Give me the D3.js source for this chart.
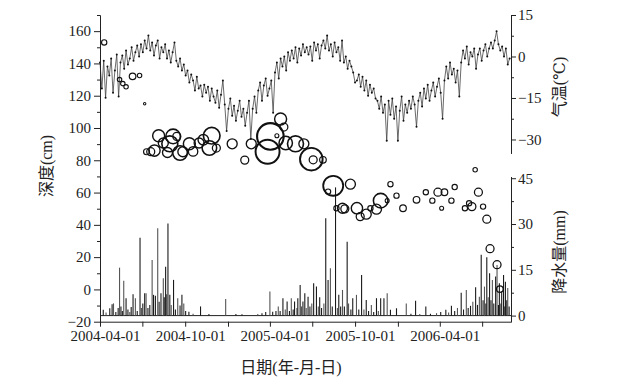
<!DOCTYPE html>
<html>
<head>
<meta charset="utf-8">
<script src="https://cdn.jsdelivr.net/npm/d3@7"></script>
<style>
  body { margin: 0; background: #fff; }
  svg { display: block; }
  text { font-family: "Liberation Serif", "DejaVu Serif", "Noto Sans CJK SC", serif; fill: #222; }
  .axis path, .axis line { stroke: #222; stroke-width: 1; }
  .axis text { font-size: 15px; }
  .title { font-size: 16px; }
</style>
</head>
<body>
<svg width="639" height="386"></svg>
<script>
// daily air temperature, read every 4th day from 2004-04-01 (°C)
var tempStart = "2004-04-01";
var tempStepDays = 4;
var temperature = [
  -2.2, -11.6, -1.5, -14.9,
  -3.6, -6.9, -0.7, -13.1, -5.1,
  0.7, -14.5, -2.2, 0.4, -4.4,
  2.2, -2.9, -0.7, 3.3, -1.5, 1.5, 4.0,
  0, 4.4, 1.5, 5.8, 2.9, 7.6,
  2.2, 5.1, 0.4, 4.0, 5.8, -0.7, 3.3, 1.5, 4.4,
  -0.7, 2.2, -2.2, 1.5, 5.1, -1.5, -3.6, -0.7, -5.1, -2.9, -6.9,
  -5.1, -9.4, -6.5, -8.7, -12.3, -7.3, -11.6, -10.5, -14.5, -10.2,
  -13.1, -10.9, -16.0, -11.6, -14.5, -16.7, -12.3, -18.5, -13.8, -8.7,
  -17.4, -26.9, -18.9, -15.2, -21.4, -17.8, -23.2, -19.6, -16.0, -21.8, -18.9, -25.0, -20.3, -16.0,
  -29.8, -18.9, -14.5, -20.3,
  -12.3, -9.4, -16.0, -10.5, -8.0, -14.2, -11.6, -8.7, -20.3,
  -5.8, -2.2, -8.0, -0.7, -3.6, 0, -5.1, 1.5, -1.5,
  2.2, -0.7, 3.3, -2.2, 2.9, 0.4, 4.4, 1.5, 3.3,
  0.7, 3.6, -1.5, 5.1, 2.2, 4.4, -0.7, 4.0, 5.8, 2.9, 7.6, 2.2, 4.4, 0, 5.1, 1.5, 3.3, -1.5, 5.8,
  -2.2, 0, -4.4, -1.5, -3.6, -5.8, -9.4,
  -8.7, -6.5, -10.9, -7.3, -12.3, -8.7, -14.2, -10.2, -13.1, -11.6, -15.2,
  -16.0, -18.9, -14.5, -20.3, -17.4, -30.5, -16.0, -21.1, -15.2, -22.5, -18.1, -30.5, -19.6, -14.5, -23.2, -17.4, -20.3, -16.0,
  -18.9, -14.5, -17.4, -25.4, -16.0, -13.1, -18.1, -11.6, -15.2, -10.2, -16.0, -12.3, -9.4, -14.5, -10.9, -8.0, -13.1, -22.5, -8.7,
  -3.6, -8.0, -2.2, -6.5, -4.4, -9.4, -5.1, -14.5,
  -2.2, 2.2, -0.7, 3.6, -2.9, 1.5, 0, 2.9, -4.4, 0.7, 2.9, -1.5, 2.2, 4.4, 0, 2.9, 5.1,
  2.9, 5.8, 9.1, 4.4, 2.2, 3.6, 0, 2.9, -2.9, -0.7
];

// daily precipitation, wet days only (mm)
var rain = [
  ["2004-04-08", 1.9], ["2004-04-14", 1.0], ["2004-04-22", 2.4], ["2004-04-27", 3.7], ["2004-04-30", 4.0],
  ["2004-05-05", 1.2], ["2004-05-10", 2.5], ["2004-05-13", 15.7], ["2004-05-16", 3.0], ["2004-05-19", 1.5],
  ["2004-05-22", 11.4], ["2004-05-27", 5.7], ["2004-05-31", 2.0], ["2004-06-04", 1.2], ["2004-06-07", 2.8],
  ["2004-06-11", 7.0], ["2004-06-16", 5.7], ["2004-06-20", 1.5], ["2004-06-26", 25.5], ["2004-06-29", 2.5],
  ["2004-07-02", 4.0], ["2004-07-06", 7.3], ["2004-07-09", 7.3], ["2004-07-13", 2.5], ["2004-07-17", 3.5],
  ["2004-07-22", 18.2], ["2004-07-25", 6.8], ["2004-07-29", 6.5], ["2004-08-03", 28.6], ["2004-08-06", 4.5],
  ["2004-08-10", 7.3], ["2004-08-15", 12.2], ["2004-08-17", 6.0], ["2004-08-20", 16.0], ["2004-08-22", 7.0],
  ["2004-08-25", 30.2], ["2004-08-29", 6.8], ["2004-09-01", 3.5], ["2004-09-06", 11.7], ["2004-09-10", 2.0],
  ["2004-09-15", 5.7], ["2004-09-20", 3.3], ["2004-09-24", 6.8], ["2004-09-28", 4.0], ["2004-10-02", 1.5],
  ["2004-10-09", 1.3], ["2004-10-18", 0.6], ["2004-11-03", 3.0], ["2004-11-21", 0.5], ["2004-12-27", 5.4],
  ["2005-01-18", 0.5], ["2005-01-31", 0.4], ["2005-03-06", 0.5], ["2005-03-15", 0.8], ["2005-03-23", 1.2],
  ["2005-04-01", 7.9], ["2005-04-07", 1.3], ["2005-04-14", 1.5], ["2005-04-19", 3.0], ["2005-04-23", 1.5],
  ["2005-04-29", 5.7], ["2005-05-04", 2.0], ["2005-05-08", 4.6], ["2005-05-13", 1.5], ["2005-05-17", 5.7],
  ["2005-05-21", 2.0], ["2005-05-24", 4.6], ["2005-05-29", 2.5], ["2005-05-31", 5.7], ["2005-06-05", 10.0],
  ["2005-06-08", 3.0], ["2005-06-11", 4.6], ["2005-06-15", 7.3], ["2005-06-18", 2.5], ["2005-06-22", 6.2],
  ["2005-06-26", 3.0], ["2005-06-30", 4.0], ["2005-07-04", 10.6], ["2005-07-10", 9.5], ["2005-07-14", 3.0],
  ["2005-07-17", 6.0], ["2005-07-21", 2.5], ["2005-07-26", 4.0], ["2005-07-30", 31.9], ["2005-08-04", 11.7],
  ["2005-08-09", 15.5], ["2005-08-13", 3.0], ["2005-08-20", 42.0], ["2005-08-24", 2.5], ["2005-08-27", 6.8],
  ["2005-08-31", 3.0], ["2005-09-04", 8.4], ["2005-09-08", 3.0], ["2005-09-14", 24.2], ["2005-09-17", 4.0],
  ["2005-09-22", 2.0], ["2005-09-26", 5.7], ["2005-10-04", 6.8], ["2005-10-09", 2.0], ["2005-10-15", 13.3],
  ["2005-10-20", 2.0], ["2005-10-25", 5.1], ["2005-10-30", 1.5], ["2005-11-05", 3.5], ["2005-11-10", 1.2],
  ["2005-11-16", 5.7], ["2005-11-20", 1.5], ["2005-11-25", 5.7], ["2005-12-02", 5.7], ["2005-12-09", 7.3],
  ["2005-12-16", 1.9], ["2005-12-29", 2.4], ["2006-01-19", 4.0], ["2006-01-29", 0.6], ["2006-02-08", 4.9],
  ["2006-02-17", 0.5], ["2006-03-02", 3.0], ["2006-03-12", 0.6], ["2006-03-25", 0.8], ["2006-04-03", 1.2],
  ["2006-04-14", 1.9], ["2006-04-20", 1.0], ["2006-04-26", 3.2], ["2006-05-03", 1.5], ["2006-05-09", 2.5],
  ["2006-05-17", 7.5], ["2006-05-22", 2.0], ["2006-05-28", 8.4], ["2006-06-01", 2.5], ["2006-06-06", 3.2],
  ["2006-06-11", 4.5], ["2006-06-17", 9.3], ["2006-06-21", 3.5], ["2006-06-25", 6.2], ["2006-06-29", 19.9],
  ["2006-07-03", 5.0], ["2006-07-06", 9.5], ["2006-07-09", 4.0], ["2006-07-11", 19.1], ["2006-07-14", 6.0],
  ["2006-07-17", 13.9], ["2006-07-20", 5.0], ["2006-07-23", 11.7], ["2006-07-26", 4.0], ["2006-07-30", 12.8],
  ["2006-08-02", 16.6], ["2006-08-05", 3.5], ["2006-08-07", 10.6], ["2006-08-10", 4.0], ["2006-08-12", 7.9],
  ["2006-08-16", 13.3], ["2006-08-18", 3.0], ["2006-08-20", 11.1], ["2006-08-23", 5.0], ["2006-08-25", 9.0],
  ["2006-08-28", 3.0]
];

// bubbles: date, depth (cm), magnitude (drawn as circle area)
var bubbles = [
  ["2004-04-10", 153, 7], ["2004-05-13", 130, 5], ["2004-05-20", 127.5, 5], ["2004-05-27", 125.5, 5],
  ["2004-06-10", 132, 11], ["2004-06-25", 132.5, 5], ["2004-07-06", 115, 1.5], ["2004-07-10", 85.3, 9],
  ["2004-07-19", 85.3, 16], ["2004-07-27", 86, 32], ["2004-08-05", 95.2, 36], ["2004-08-15", 90.7, 25],
  ["2004-08-24", 84.8, 25], ["2004-08-29", 90.2, 64], ["2004-09-05", 94.8, 53], ["2004-09-13", 94.8, 16],
  ["2004-09-20", 84.5, 53], ["2004-09-26", 85.3, 25], ["2004-10-10", 90.2, 36], ["2004-10-18", 85.5, 22],
  ["2004-10-31", 90.7, 25], ["2004-11-09", 92.7, 28], ["2004-11-22", 87.6, 53], ["2004-11-27", 95.2, 69],
  ["2004-12-07", 87.6, 16], ["2005-01-10", 90.2, 25], ["2005-02-06", 80.1, 16], ["2005-02-20", 90.2, 25],
  ["2005-03-27", 85.3, 144], ["2005-04-02", 94.8, 177], ["2005-04-16", 95.2, 4], ["2005-04-24", 105.6, 36],
  ["2005-05-01", 100.6, 16], ["2005-05-05", 90.7, 45], ["2005-05-26", 90.2, 64], ["2005-06-13", 90.2, 25],
  ["2005-06-29", 80.7, 128], ["2005-07-03", 80.3, 16], ["2005-07-24", 80.3, 11], ["2005-08-04", 60.6, 7],
  ["2005-08-15", 64.2, 100], ["2005-08-22", 50.3, 7], ["2005-09-04", 50.3, 25], ["2005-09-09", 49.9, 16],
  ["2005-09-21", 65.2, 25], ["2005-10-05", 50.3, 32], ["2005-10-12", 45.1, 16], ["2005-10-25", 46.6, 25],
  ["2005-11-03", 50.3, 7], ["2005-11-16", 49.7, 25], ["2005-11-25", 55, 53], ["2005-12-09", 55, 4],
  ["2005-12-16", 65.2, 7], ["2005-12-29", 58.1, 7], ["2006-01-12", 50.3, 11], ["2006-02-10", 55.5, 11],
  ["2006-03-02", 60.2, 7], ["2006-03-16", 55, 7], ["2006-03-28", 60.2, 16], ["2006-04-05", 50.3, 4],
  ["2006-04-11", 60.2, 11], ["2006-04-26", 55, 7], ["2006-05-03", 63.4, 7], ["2006-05-25", 50.3, 7],
  ["2006-06-03", 53.4, 7], ["2006-06-09", 51.3, 16], ["2006-06-16", 74.1, 5], ["2006-06-23", 60.2, 16],
  ["2006-07-03", 51.3, 7], ["2006-07-11", 43.5, 16], ["2006-07-18", 25.2, 16], ["2006-08-02", 15.3, 16],
  ["2006-08-08", 0.2, 11]
];

var dateRange = ["2004-04-01", "2006-09-01"];
var depthTicks = [-20, 0, 20, 40, 60, 80, 100, 120, 140, 160];
var depthMinor = [-10, 10, 30, 50, 70, 90, 110, 130, 150, 170];
var tempTicks = [-30, -15, 0, 15];
var tempMinor = [-22.5, -7.5, 7.5];
var rainTicks = [0, 15, 30, 45];
var rainMinor = [7.5, 22.5, 37.5];

document.addEventListener("DOMContentLoaded", function () {

  var parse = d3.utcParse("%Y-%m-%d");
  var svg = d3.select("svg");

  var x = d3.scaleUtc()
    .domain(dateRange.map(parse))
    .range([100, 511]);
  var yDepth = d3.scaleLinear().domain([-20, 170]).range([321.7, 15]);
  var yTemp = d3.scaleLinear().domain([-35, 15]).range([153.3, 15]);
  var yRain = d3.scaleLinear().domain([-2, 45.5]).range([321.7, 176.7]);
  var rScale = d3.scaleSqrt().domain([0, 180]).range([0, 13.4]);

  // precipitation impulses
  var rainG = svg.append("g");
  rainG.append("line")
    .attr("x1", x.range()[0]).attr("x2", x.range()[1])
    .attr("y1", yRain(0)).attr("y2", yRain(0))
    .attr("stroke", "#222").attr("stroke-width", 1);
  rainG.selectAll("line.bar")
    .data(rain)
    .enter()
    .append("line")
    .attr("class", "bar")
    .attr("x1", function (d) { return x(parse(d[0])); })
    .attr("x2", function (d) { return x(parse(d[0])); })
    .attr("y1", yRain(0))
    .attr("y2", function (d) { return yRain(d[1]); })
    .attr("stroke", function (d, i) { return i % 3 == 1 ? "#555" : "#1a1a1a"; })
    .attr("stroke-width", 1.1);

  // air temperature
  var start = parse(tempStart);
  var temps = temperature.map(function (t, i) {
    return { date: d3.utcDay.offset(start, i * tempStepDays), t: t };
  });
  var line = d3.line()
    .x(function (d) { return x(d.date); })
    .y(function (d) { return yTemp(d.t); });
  svg.append("path")
    .datum(temps)
    .attr("d", line)
    .attr("fill", "none")
    .attr("stroke", "#444")
    .attr("stroke-width", 0.8);
  svg.append("g").selectAll("circle")
    .data(temps)
    .enter()
    .append("circle")
    .attr("cx", function (d) { return x(d.date); })
    .attr("cy", function (d) { return yTemp(d.t); })
    .attr("r", 1)
    .attr("fill", "#111");

  // depth bubbles
  svg.append("g").selectAll("circle")
    .data(bubbles)
    .enter()
    .append("circle")
    .attr("cx", function (d) { return x(parse(d[0])); })
    .attr("cy", function (d) { return yDepth(d[1]); })
    .attr("r", function (d) { return rScale(d[2]); })
    .attr("fill", "none")
    .attr("stroke", "#111")
    .attr("stroke-width", function (d) { return 0.9 + rScale(d[2]) * 0.09; });

  // axes
  var xTicks = d3.utcMonth.every(3).range(parse(dateRange[0]), d3.utcDay.offset(parse(dateRange[1]), 1));
  var fmt = d3.utcFormat("%Y-%m-%d");
  var xAxis = svg.append("g").attr("class", "axis")
    .attr("transform", "translate(0," + yDepth(-20) + ")")
    .call(d3.axisBottom(x).tickValues(xTicks).tickSize(5).tickSizeOuter(0).tickPadding(4)
      .tickFormat(function (d) { var m = d.getUTCMonth(); return (m == 3 || m == 9) ? fmt(d) : ""; }));
  xAxis.selectAll("text").attr("dx", 5);

  svg.append("g").attr("class", "axis")
    .attr("transform", "translate(100,0)")
    .call(d3.axisLeft(yDepth).tickValues(depthTicks).tickSize(6).tickSizeOuter(0).tickPadding(3));
  svg.append("g").attr("class", "axis")
    .attr("transform", "translate(100,0)")
    .call(d3.axisLeft(yDepth).tickValues(depthMinor).tickSize(3).tickSizeOuter(0).tickFormat(""));

  svg.append("g").attr("class", "axis")
    .attr("transform", "translate(511,0)")
    .call(d3.axisRight(yTemp).tickValues(tempTicks).tickSize(5).tickSizeOuter(0).tickPadding(2));
  svg.append("g").attr("class", "axis")
    .attr("transform", "translate(511,0)")
    .call(d3.axisRight(yTemp).tickValues(tempMinor).tickSize(3).tickSizeOuter(0).tickFormat(""));

  svg.append("g").attr("class", "axis")
    .attr("transform", "translate(511,0)")
    .call(d3.axisRight(yRain).tickValues(rainTicks).tickSize(5).tickSizeOuter(0).tickPadding(2));
  svg.append("g").attr("class", "axis")
    .attr("transform", "translate(511,0)")
    .call(d3.axisRight(yRain).tickValues(rainMinor).tickSize(3).tickSizeOuter(0).tickFormat(""));

  svg.selectAll("g.axis").attr("font-family", null).attr("font-size", null);
  svg.selectAll(".axis text").style("font-size", "15px").style("fill", "#222");

  // titles
  svg.append("text").attr("class", "title")
    .attr("transform", "translate(46,166) rotate(-90)")
    .attr("text-anchor", "middle").attr("dominant-baseline", "central")
    .text("深度(cm)");
  svg.append("text").attr("class", "title")
    .attr("transform", "translate(559,87) rotate(-90)")
    .attr("text-anchor", "middle").attr("dominant-baseline", "central")
    .text("气温(℃)");
  svg.append("text").attr("class", "title")
    .attr("transform", "translate(559,252) rotate(-90)")
    .attr("text-anchor", "middle").attr("dominant-baseline", "central")
    .text("降水量(mm)");
  svg.append("text").attr("class", "title")
    .attr("x", 291).attr("y", 367)
    .attr("text-anchor", "middle").attr("dominant-baseline", "central")
    .text("日期(年-月-日)");
});
</script>
</body>
</html>
